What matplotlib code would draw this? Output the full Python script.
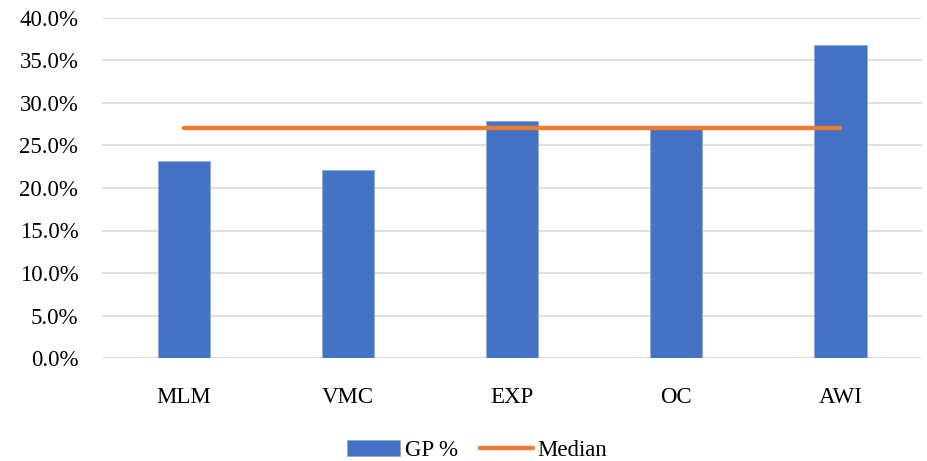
import matplotlib.pyplot as plt
from matplotlib.ticker import PercentFormatter

categories = ["MLM", "VMC", "EXP", "OC", "AWI"]
gp_pct = [23.2, 22.1, 27.9, 27.1, 36.8]
median_pct = [27.1, 27.1, 27.1, 27.1, 27.1]
y_ticks = [0, 5, 10, 15, 20, 25, 30, 35, 40]

plt.rcParams["font.family"] = ["Liberation Serif", "DejaVu Serif"]

fig = plt.figure(figsize=(9.27, 4.61), dpi=100)
ax = fig.add_axes([0.110, 0.2234, 0.885, 0.7376])

x = range(len(categories))
bars = ax.bar(x, gp_pct, width=0.32, color="#4472C4", edgecolor="#8FAADC",
              linewidth=0.6, label="GP %", zorder=2)
line, = ax.plot(x, median_pct, color="#ED7D31", linewidth=3.2,
                solid_capstyle="round", label="Median", zorder=3)

ax.set_xlim(-0.5, len(categories) - 0.5)
ax.set_ylim(0, 40)
ax.set_yticks(y_ticks)
ax.yaxis.set_major_formatter(PercentFormatter(decimals=1))
ax.set_xticks(list(x))
ax.set_xticklabels(categories)

ax.grid(axis="y", color="#D9D9D9", linewidth=1.2, zorder=0)
for side in ["top", "right", "left", "bottom"]:
    ax.spines[side].set_visible(False)
ax.tick_params(axis="both", length=0, labelsize=16.5, colors="#000000")
ax.tick_params(axis="x", pad=21)
ax.tick_params(axis="y", pad=17)

fig.legend(handles=[bars, line], loc="lower center",
           bbox_to_anchor=(0.515, -0.045), ncol=2, frameon=False,
           fontsize=16.5, handlelength=2.3, handletextpad=0.2,
           columnspacing=1.0)

fig.savefig("out.png", dpi=100)
